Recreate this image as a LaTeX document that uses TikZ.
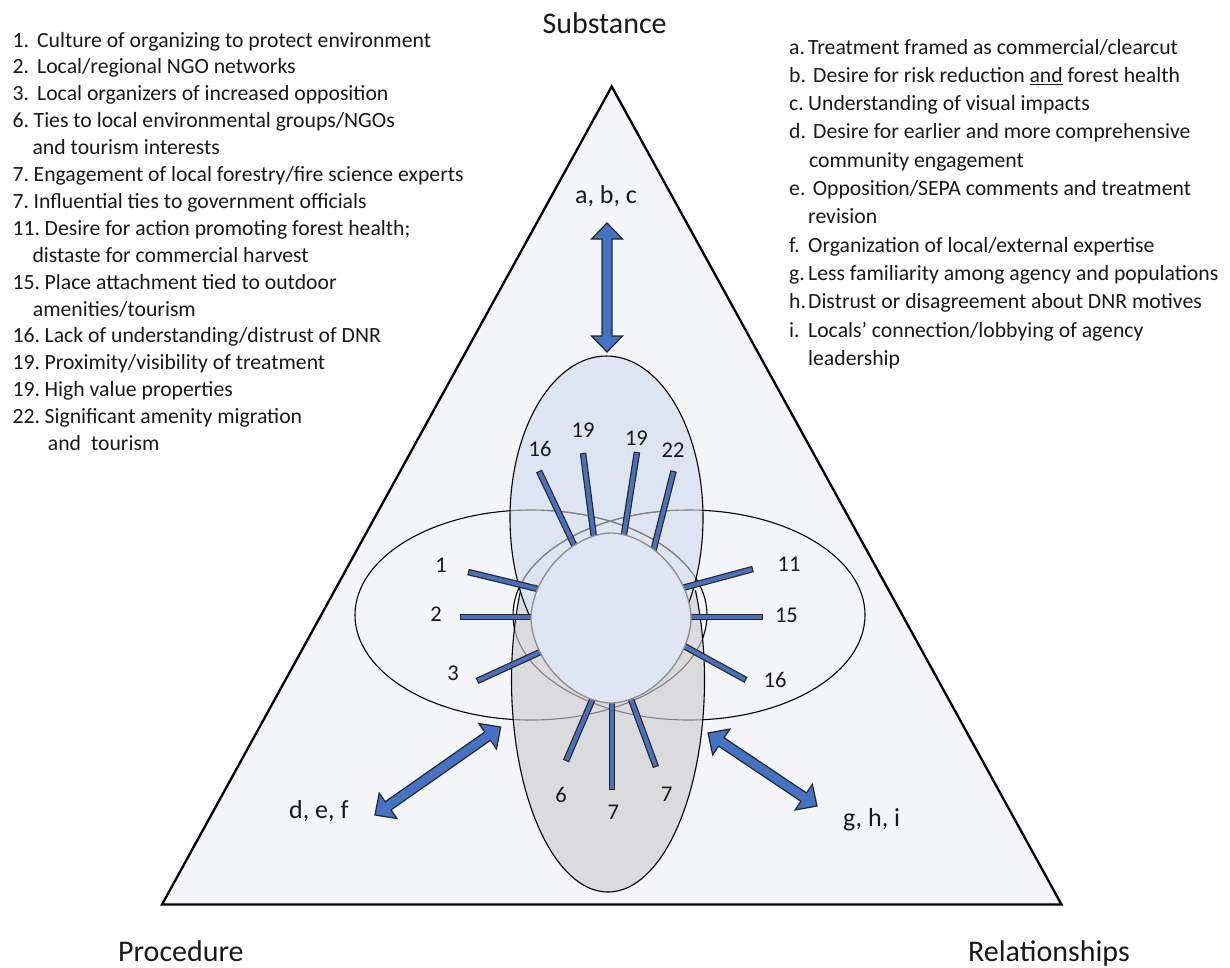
\documentclass[tikz,border=0pt]{standalone}
\usepackage{fontspec}
\setmainfont{Carlito}
\usetikzlibrary{calc}
\definecolor{trifill}{RGB}{243,245,248}
\definecolor{topfill}{RGB}{221,229,242}
\definecolor{botfill}{RGB}{219,219,221}
\definecolor{cirfill}{RGB}{223,230,243}
\definecolor{arrblue}{RGB}{68,114,196}
\definecolor{spblue}{RGB}{72,112,190}
\definecolor{txt}{RGB}{25,25,25}
\newcommand{\dblarrow}[2]{%
  \coordinate (h1) at ($(#1)!16pt!(#2)$);
  \coordinate (h2) at ($(#2)!16pt!(#1)$);
  \draw[bigarrow] (#1) -- ($(h1)!15.5pt!90:(#2)$) -- ($(h1)!5pt!90:(#2)$)
    -- ($(h2)!5pt!-90:(#1)$) -- ($(h2)!15.5pt!-90:(#1)$) -- (#2)
    -- ($(h2)!15.5pt!90:(#1)$) -- ($(h2)!5pt!90:(#1)$)
    -- ($(h1)!5pt!-90:(#2)$) -- ($(h1)!15.5pt!-90:(#2)$) -- cycle;}
\newcommand{\spoke}[2]{%
  \draw[spokeout] (#1) -- (#2);
  \draw[spokein] (#1) -- (#2);}
\newcommand{\horizell}[1]{%
  \draw[#1] (531,615) ellipse [x radius=176pt, y radius=105pt];
  \draw[#1] (689,615) ellipse [x radius=176pt, y radius=105pt];}
\begin{document}
\begin{tikzpicture}[x=1pt,y=-1pt,
  bigarrow/.style={fill=arrblue, draw=black!85, line width=1.2pt, line join=miter},
  spokeout/.style={line width=6.5pt, draw=black!85, shorten >=-8pt},
  spokein/.style={line width=4.1pt, draw=spblue, shorten <=1.2pt, shorten >=-8pt},
  ell/.style={draw=black, line width=1.1pt},
  ellfaint/.style={draw=black!50, line width=1.1pt},
  listtxt/.style={anchor=base west, inner sep=0pt, text=txt, font=\fontsize{21.7}{26}\selectfont},
  numlab/.style={anchor=base, inner sep=0pt, text=txt, font=\fontsize{22.5}{26}\selectfont},
  letlab/.style={inner sep=0pt, text=txt, font=\fontsize{26}{30}\selectfont},
  title/.style={inner sep=0pt, text=txt, font=\fontsize{30}{34}\selectfont}]
\useasboundingbox (0,0) rectangle (1230,967);
\fill[white] (0,0) rectangle (1230,967);
% triangle
\coordinate (apex) at (611.7,86.5);
\coordinate (bl) at (162,904.5);
\coordinate (br) at (1061.5,904.5);
\draw[fill=trifill, line width=2.3pt, line join=miter] (apex) -- (br) -- (bl) -- cycle;
% horizontal ellipses
\horizell{ell}
% vertical ellipses (opaque), horizontal outlines seen faintly through them
\fill[botfill] (608,680) ellipse [x radius=96.5pt, y radius=212pt];
\fill[topfill] (606.5,518) ellipse [x radius=96.5pt, y radius=162pt];
\begin{scope}
  \clip (606.5,518) ellipse [x radius=96.5pt, y radius=162pt];
  \horizell{ellfaint}
\end{scope}
\begin{scope}
  \clip (608,680) ellipse [x radius=96.5pt, y radius=212pt];
  \horizell{ellfaint}
\end{scope}
\draw[ell] plot[domain=-25:205, samples=120, variable=\t] ({608+96.5*cos(\t)}, {680+212*sin(\t)});
\draw[ell] (606.5,518) ellipse [x radius=96.5pt, y radius=162pt];
% spokes
\coordinate (o1) at (468,572);   \coordinate (i1) at (536,588.5);
\coordinate (o2) at (460,617);   \coordinate (i2) at (530,617);
\coordinate (o3) at (477,681);   \coordinate (i3) at (538,653);
\coordinate (o4) at (539,471);   \coordinate (i4) at (576,549);
\coordinate (o5) at (583,453);   \coordinate (i5) at (594,538);
\coordinate (o6) at (637,452);   \coordinate (i6) at (623.6,537);
\coordinate (o7) at (673.6,471); \coordinate (i7) at (652.5,554);
\coordinate (o8) at (753,569);   \coordinate (i8) at (686,587);
\coordinate (o9) at (763,617);   \coordinate (i9) at (692,617);
\coordinate (o10) at (746,680);  \coordinate (i10) at (684,646);
\coordinate (o11) at (566,761);  \coordinate (i11) at (593,698);
\coordinate (o12) at (612,790);  \coordinate (i12) at (612,703);
\coordinate (o13) at (656,767);  \coordinate (i13) at (632,702);
\foreach \k in {1,...,13} {\spoke{o\k}{i\k}}
% centre (rounded, slightly diamond-like)
\draw[fill=cirfill, draw=black!45, line width=1.3pt]
  plot[domain=2:357, samples=72, smooth, variable=\t]
  ({611+80*cos(\t)*pow(abs(cos(\t)),0.11)}, {618+85*sin(\t)*pow(abs(sin(\t)),0.11)}) -- cycle;
% spoke labels
\node[numlab] (n1) at (441,572) {1};
\node[numlab] (n2) at (436,621.5) {2};
\node[numlab] (n3) at (453,680) {3};
\node[numlab] (n4) at (540,456) {16};
\node[numlab] (n5) at (583,437.5) {19};
\node[numlab] (n6) at (636.4,445) {19};
\node[numlab] (n7) at (673,457) {22};
\node[numlab] (n8) at (789,571) {11};
\node[numlab] (n9) at (786.4,622.5) {15};
\node[numlab] (n10) at (775,687) {16};
\node[numlab] (n11) at (561,802) {6};
\node[numlab] (n12) at (613.3,819) {7};
\node[numlab] (n13) at (666.7,801) {7};
% arrows
\coordinate (ta) at (607,223); \coordinate (tb) at (607,352);
\coordinate (la) at (375,815); \coordinate (lb) at (500.7,727);
\coordinate (ra) at (708,733); \coordinate (rb) at (817,806);
\dblarrow{ta}{tb}
\dblarrow{la}{lb}
\dblarrow{ra}{rb}
\node[letlab, anchor=base] (abc) at (606,203.5) {a, b, c};
\node[letlab, anchor=base] (def) at (318.8,818.3) {d, e, f};
\node[letlab, anchor=base west] (ghi) at (843,826.7) {g, h, i};
% titles
\node[title, anchor=base] (sub) at (604.7,33.3) {Substance};
\node[title, anchor=base west] (proc) at (118,961) {Procedure};
\node[title, anchor=base east] (rel) at (1130,961) {Relationships};
% left list
\node[listtxt] (l1) at (12.5,47) {\makebox[24.5pt][l]{1.}Culture of organizing to protect environment};
\node[listtxt] (l2) at (12.5,73.9) {\makebox[24.5pt][l]{2.}Local/regional NGO networks};
\node[listtxt] (l3) at (12.5,100.8) {\makebox[24.5pt][l]{3.}Local organizers of increased opposition};
\node[listtxt] (l4) at (12.5,127.7) {\makebox[21pt][l]{6.}Ties to local environmental groups/NGOs};
\node[listtxt] (l5) at (32.4,154.6) {and tourism interests};
\node[listtxt] (l6) at (12.5,181.5) {\makebox[21pt][l]{7.}Engagement of local forestry/fire science experts};
\node[listtxt] (l7) at (12.5,208.4) {\makebox[21pt][l]{7.}Influential ties to government officials};
\node[listtxt] (l8) at (12.5,235.3) {\makebox[32pt][l]{11.}Desire for action promoting forest health;};
\node[listtxt] (l9) at (32.4,262.2) {distaste for commercial harvest};
\node[listtxt] (l10) at (12.5,289.1) {\makebox[32pt][l]{15.}Place attachment tied to outdoor};
\node[listtxt] (l11) at (32.7,316) {amenities/tourism};
\node[listtxt] (l12) at (12.5,342.9) {\makebox[32pt][l]{16.}Lack of understanding/distrust of DNR};
\node[listtxt] (l13) at (12.5,369.8) {\makebox[32pt][l]{19.}Proximity/visibility of treatment};
\node[listtxt] (l14) at (12.5,396.7) {\makebox[32pt][l]{19.}High value properties};
\node[listtxt] (l15) at (12.5,423.6) {\makebox[32pt][l]{22.}Significant amenity migration};
\node[listtxt] (l16) at (47.7,450.5) {and\hspace{10pt}tourism};
% right list
\node[listtxt] (r1) at (789,54) {\makebox[19pt][l]{a.}Treatment framed as commercial/clearcut};
\node[listtxt] (r2) at (789,82.3) {\makebox[24pt][l]{b.}Desire for risk reduction \underline{and} forest health};
\node[listtxt] (r3) at (789,110.6) {\makebox[19pt][l]{c.}Understanding of visual impacts};
\node[listtxt] (r4) at (789,138.9) {\makebox[24pt][l]{d.}Desire for earlier and more comprehensive};
\node[listtxt] (r5) at (809,167.2) {community engagement};
\node[listtxt] (r6) at (789,195.5) {\makebox[23.6pt][l]{e.}Opposition/SEPA comments and treatment};
\node[listtxt] (r7) at (808,223.8) {revision};
\node[listtxt] (r8) at (789,252.1) {\makebox[19pt][l]{f.}Organization of local/external expertise};
\node[listtxt] (r9) at (789,280.4) {\makebox[19pt][l]{g.}Less familiarity among agency and populations};
\node[listtxt] (r10) at (789,308.7) {\makebox[19pt][l]{h.}Distrust or disagreement about DNR motives};
\node[listtxt] (r11) at (789,337) {\makebox[19pt][l]{i.}Locals’ connection/lobbying of agency};
\node[listtxt] (r12) at (808,365.3) {leadership};
\end{tikzpicture}
\end{document}
